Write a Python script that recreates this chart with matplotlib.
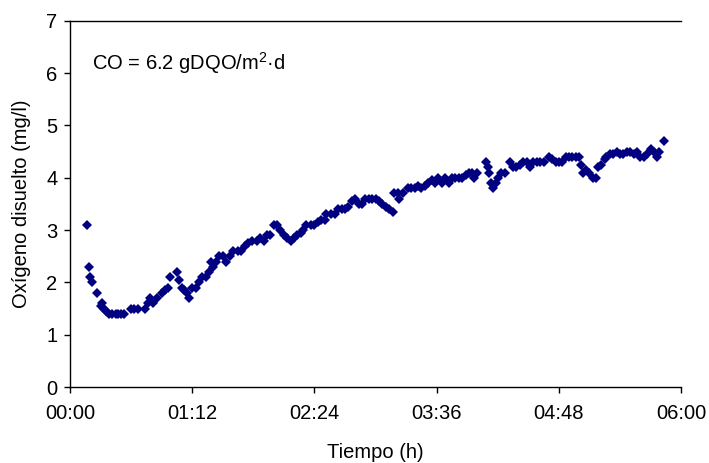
import matplotlib
matplotlib.use("Agg")
import matplotlib.pyplot as plt

plt.rcParams['font.family'] = ['Liberation Sans', 'DejaVu Sans']
plt.rcParams['mathtext.fontset'] = 'custom'
plt.rcParams['mathtext.rm'] = 'Liberation Sans'
plt.rcParams['mathtext.default'] = 'regular'

# tiempo en minutos desde el inicio, oxígeno disuelto en mg/l
tiempo_min = [
    10, 11, 12, 13, 16, 18, 19, 20, 21, 23, 25, 27, 28, 30, 32, 36, 38, 40, 44, 46,
    47, 49, 51, 54, 56, 58, 59, 63, 64, 66, 67, 69, 70, 72, 74, 76, 78, 80, 82, 83,
    84, 86, 88, 90, 92, 94, 96, 99, 101, 103, 105, 107, 110, 112, 114, 116, 118, 120, 122, 124,
    126, 128, 130, 132, 134, 136, 137, 139, 142, 144, 146, 148, 150, 151, 154, 156, 158, 160, 162, 164,
    166, 168, 170, 172, 174, 176, 178, 180, 182, 184, 186, 188, 190, 191, 193, 194, 196, 199, 201, 203,
    205, 207, 209, 211, 213, 215, 217, 219, 221, 223, 225, 227, 229, 231, 233, 235, 237, 238, 240, 245,
    246, 247, 248, 249, 251, 252, 254, 256, 259, 261, 263, 265, 267, 269, 271, 273, 275, 277, 279, 282,
    284, 286, 288, 290, 292, 294, 296, 298, 300, 301, 302, 304, 306, 308, 310, 311, 313, 315, 316, 318,
    320, 322, 324, 326, 328, 330, 332, 334, 336, 338, 340, 342, 344, 346, 347, 350,
]
oxigeno = [
    3.1, 2.3, 2.1, 2.0, 1.8, 1.55, 1.6, 1.5, 1.45, 1.4, 1.4, 1.4, 1.4, 1.4, 1.4, 1.5, 1.5, 1.5, 1.5, 1.6,
    1.7, 1.6, 1.7, 1.8, 1.85, 1.9, 2.1, 2.2, 2.05, 1.9, 1.85, 1.8, 1.7, 1.9, 1.9, 2.0, 2.1, 2.1, 2.2, 2.4,
    2.3, 2.4, 2.5, 2.5, 2.4, 2.5, 2.6, 2.6, 2.6, 2.7, 2.75, 2.8, 2.8, 2.85, 2.8, 2.9, 2.9, 3.1, 3.1, 3.0,
    2.9, 2.85, 2.8, 2.85, 2.9, 2.95, 3.0, 3.1, 3.1, 3.1, 3.15, 3.2, 3.2, 3.3, 3.3, 3.3, 3.4, 3.4, 3.4, 3.45,
    3.55, 3.6, 3.5, 3.5, 3.6, 3.6, 3.6, 3.6, 3.55, 3.5, 3.45, 3.4, 3.35, 3.7, 3.7, 3.6, 3.7, 3.8, 3.8, 3.8,
    3.85, 3.8, 3.85, 3.9, 3.95, 3.9, 4.0, 3.9, 4.0, 3.9, 4.0, 4.0, 4.0, 4.0, 4.05, 4.1, 4.1, 4.0, 4.1, 4.3,
    4.2, 4.1, 3.9, 3.8, 3.9, 4.0, 4.1, 4.1, 4.3, 4.2, 4.2, 4.25, 4.3, 4.3, 4.2, 4.3, 4.3, 4.3, 4.3, 4.4,
    4.35, 4.3, 4.3, 4.3, 4.4, 4.4, 4.4, 4.4, 4.4, 4.25, 4.1, 4.15, 4.1, 4.0, 4.0, 4.2, 4.25, 4.35, 4.4, 4.45,
    4.45, 4.5, 4.45, 4.45, 4.5, 4.5, 4.45, 4.5, 4.4, 4.4, 4.45, 4.55, 4.5, 4.4, 4.5, 4.7,
]

ticks_min = [0, 72, 144, 216, 288, 360]
tick_labels = ["00:00", "01:12", "02:24", "03:36", "04:48", "06:00"]

fig = plt.figure(figsize=(7.09, 4.63), dpi=100)
ax = fig.add_axes([0.0987, 0.164, 0.862, 0.791])

ax.plot(tiempo_min, oxigeno, linestyle='none', marker='D', markersize=4.8,
        color='#000080', markeredgewidth=0)

ax.set_xlim(0, 360)
ax.set_ylim(0, 7)
ax.set_xticks(ticks_min)
ax.set_xticklabels(tick_labels)
ax.set_yticks(range(0, 8))

ax.spines['right'].set_visible(False)
for s in ['left', 'bottom', 'top']:
    ax.spines[s].set_linewidth(1.0)
    ax.spines[s].set_color('black')

ax.tick_params(direction='out', length=4, width=1, labelsize=14.5)
ax.tick_params(axis='x', pad=8)
ax.tick_params(axis='y', pad=5)

ax.set_xlabel('Tiempo (h)', fontsize=14.5)
ax.set_ylabel('Oxígeno disuelto (mg/l)', fontsize=14.5)
ax.xaxis.set_label_coords(0.5, -0.152)
ax.yaxis.set_label_coords(-0.063, 0.5)

ax.text(13, 6.2, 'CO = 6.2 gDQO/m$^{2}$·d', fontsize=14.5, va='center')

fig.savefig('out.png', dpi=100)
